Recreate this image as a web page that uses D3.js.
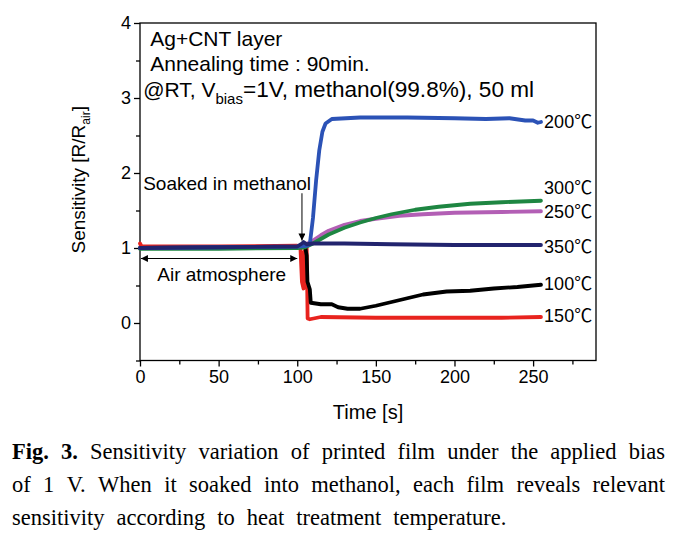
<!DOCTYPE html>
<html><head><meta charset="utf-8">
<script src="https://cdn.jsdelivr.net/npm/d3@7"></script>
<style>body{margin:0;background:#fff}svg{display:block}</style>
</head><body>
<svg id="c" width="678" height="537"></svg>
<script>
// ---- data ----
const xTicks = [0, 50, 100, 150, 200, 250];
const yTicks = [0, 1, 2, 3, 4];
const seriesNames = ["150℃", "100℃", "250℃", "300℃", "200℃", "350℃"];
const s150 = [[0,1.06],[1,1.02],[50,1.02],[100,1.03],[102,1.02],[103,0.55],[104,0.46],[104.5,0.95],[106,1.0],[106.6,0.06],[108,0.05],[115,0.08],[150,0.07],[200,0.07],[230,0.07],[255,0.08]];
const s100 = [[0,1.0],[100,1.01],[105,1.02],[106,0.9],[106.5,0.55],[108,0.45],[108.6,0.27],[115,0.25],[122,0.25],[126,0.21],[132,0.19],[140,0.19],[150,0.23],[160,0.28],[170,0.33],[180,0.38],[195,0.42],[210,0.43],[225,0.46],[240,0.48],[255,0.51]];
const s250 = [[100,1.01],[105,1.04],[110,1.1],[115,1.17],[120,1.23],[130,1.31],[140,1.36],[150,1.39],[165,1.43],[180,1.45],[200,1.47],[230,1.48],[255,1.49]];
const s300 = [[0,0.99],[50,0.99],[100,1.0],[105,1.01],[110,1.06],[115,1.12],[120,1.18],[130,1.27],[140,1.34],[150,1.40],[160,1.45],[175,1.51],[190,1.55],[210,1.59],[230,1.61],[255,1.63]];
const s200 = [[0,1.0],[50,1.01],[100,1.02],[106,1.03],[108,1.05],[110,1.4],[112,1.9],[114,2.3],[116,2.55],[118,2.66],[122,2.72],[140,2.74],[170,2.74],[200,2.73],[220,2.72],[235,2.73],[245,2.70],[250,2.70],[253,2.67],[255,2.68]];
const s350 = [[0,1.0],[50,1.01],[100,1.02],[103,1.06],[104,1.08],[106,1.05],[110,1.06],[130,1.06],[160,1.05],[200,1.04],[230,1.04],[255,1.04]];
const seriesData = [s150, s100, s250, s300, s200, s350];
const seriesColors = ["#e8231e", "#000000", "#b35fb5", "#1e8642", "#2b52b6", "#22246e"];
const labelY = [0.10, 0.53, 1.48, 1.80, 2.69, 1.02];

// ---- layout ----
const svg = d3.select("#c");
const L = 140, R = 596, T = 23, B = 360.5;
const x = d3.scaleLinear().domain([0, 290]).range([L, R]);
const y = d3.scaleLinear().domain([-0.5, 4]).range([B, T]);
const sans = "'Liberation Sans', Arial, sans-serif";

// frame
svg.append("rect").attr("x", L).attr("y", T).attr("width", R - L).attr("height", B - T)
  .attr("fill", "none").attr("stroke", "#000").attr("stroke-width", 1.3);

// axes
const xAxis = svg.append("g").attr("transform", `translate(0,${B})`)
  .call(d3.axisBottom(x).tickValues(xTicks).tickSize(6).tickPadding(4).tickFormat(d3.format("d")));
const xMinor = svg.append("g").attr("transform", `translate(0,${B})`)
  .call(d3.axisBottom(x).tickValues(d3.range(25, 290, 50)).tickSize(4).tickFormat(""));
const yAxis = svg.append("g").attr("transform", `translate(${L},0)`)
  .call(d3.axisLeft(y).tickValues(yTicks).tickSize(6).tickPadding(3).tickFormat(d3.format("d")));
const yMinor = svg.append("g").attr("transform", `translate(${L},0)`)
  .call(d3.axisLeft(y).tickValues([-0.5, 0.5, 1.5, 2.5, 3.5]).tickSize(4).tickFormat(""));
[xAxis, xMinor, yAxis, yMinor].forEach(g => {
  g.select(".domain").remove();
  g.selectAll("line").attr("stroke", "#000").attr("stroke-width", 1.3);
  g.selectAll("text").attr("font-family", sans).attr("font-size", 18).attr("fill", "#000");
});

// series
const lineLin = d3.line().x(d => x(d[0])).y(d => y(d[1]));
seriesData.forEach((s, i) => {
  svg.append("path").attr("d", lineLin(s)).attr("fill", "none")
    .attr("stroke", seriesColors[i]).attr("stroke-width", 3.8)
    .attr("stroke-linejoin", "round").attr("stroke-linecap", "round");
});

// series labels
seriesNames.forEach((n, i) => {
  const t = svg.append("text").attr("x", x(257)).attr("y", y(labelY[i]))
    .attr("dy", "0.36em").attr("font-family", sans).attr("font-size", 18).attr("fill", "#000");
  t.append("tspan").text(n.slice(0, -1));
  t.append("tspan").attr("font-family", "'Noto Sans CJK KR', sans-serif").attr("font-size", 18).text(n.slice(-1));
});

// axis titles
svg.append("text").attr("x", (L + R) / 2).attr("y", 419).attr("text-anchor", "middle")
  .attr("font-family", sans).attr("font-size", 20).text("Time [s]");
const yt = svg.append("text").attr("transform", `translate(85,${(T + B) / 2 - 12}) rotate(-90)`)
  .attr("text-anchor", "middle").attr("font-family", sans).attr("font-size", 19);
yt.append("tspan").text("Sensitivity [R/R");
yt.append("tspan").attr("font-size", 12).attr("dy", 5).text("air");
yt.append("tspan").attr("dy", -5).text("]");

// annotation block
const ann = [["Ag+CNT layer", 3.70], ["Annealing time : 90min.", 3.355]];
ann.forEach(a => svg.append("text").attr("x", x(6.5)).attr("y", y(a[1]))
  .attr("font-family", sans).attr("font-size", 21).text(a[0]));
const a3 = svg.append("text").attr("x", x(2)).attr("y", y(3.01)).attr("font-family", sans).attr("font-size", 21);
a3.append("tspan").text("@RT, V");
a3.append("tspan").attr("font-size", 15).attr("dy", 7).text("bias");
a3.append("tspan").attr("dy", -7).attr("font-size", 22.6).text("=1V, methanol(99.8%), 50 ml");

// markers
const defs = svg.append("defs");
defs.append("marker").attr("id", "ah").attr("viewBox", "0 0 10 10").attr("refX", 10).attr("refY", 5)
  .attr("markerWidth", 9).attr("markerHeight", 7).attr("markerUnits", "userSpaceOnUse").attr("orient", "auto-start-reverse")
  .append("path").attr("d", "M0,0 L10,5 L0,10 Z").attr("fill", "#000");

svg.append("text").attr("x", x(2)).attr("y", y(1.77)).attr("font-family", sans).attr("font-size", 19).text("Soaked in methanol");
svg.append("line").attr("x1", x(103)).attr("x2", x(103)).attr("y1", y(1.73)).attr("y2", y(1.1))
  .attr("stroke", "#000").attr("stroke-width", 1).attr("marker-end", "url(#ah)");
svg.append("line").attr("x1", x(0.6)).attr("x2", x(100)).attr("y1", y(0.86)).attr("y2", y(0.86))
  .attr("stroke", "#000").attr("stroke-width", 1).attr("marker-end", "url(#ah)").attr("marker-start", "url(#ah)");
svg.append("text").attr("x", x(11)).attr("y", y(0.555)).attr("font-family", sans).attr("font-size", 19).text("Air atmosphere");

// caption
const serif = "'Liberation Serif', 'Times New Roman', serif";
const capFont = 22.5;
const capLines = [
  {words: [["Fig.", true], ["3.", true], ["Sensitivity"], ["variation"], ["of"], ["printed"], ["film"], ["under"], ["the"], ["applied"], ["bias"]], y: 459, justify: true},
  {words: [["of"], ["1"], ["V."], ["When"], ["it"], ["soaked"], ["into"], ["methanol,"], ["each"], ["film"], ["reveals"], ["relevant"]], y: 492, justify: true},
  {words: [["sensitivity"], ["according"], ["to"], ["heat"], ["treatment"], ["temperature."]], y: 525, justify: false}
];
const capL = 12, capR = 665;
capLines.forEach(ln => {
  const nodes = ln.words.map(w => svg.append("text").attr("y", ln.y).attr("font-family", serif)
    .attr("font-size", capFont).attr("font-weight", w[1] ? "bold" : "normal").text(w[0]));
  const widths = nodes.map(n => n.node().getComputedTextLength());
  const total = d3.sum(widths);
  const gap = ln.justify ? (capR - capL - total) / (nodes.length - 1) : 12;
  let cx = capL;
  nodes.forEach((n, i) => { n.attr("x", cx); cx += widths[i] + gap; });
});
</script>
</body></html>
